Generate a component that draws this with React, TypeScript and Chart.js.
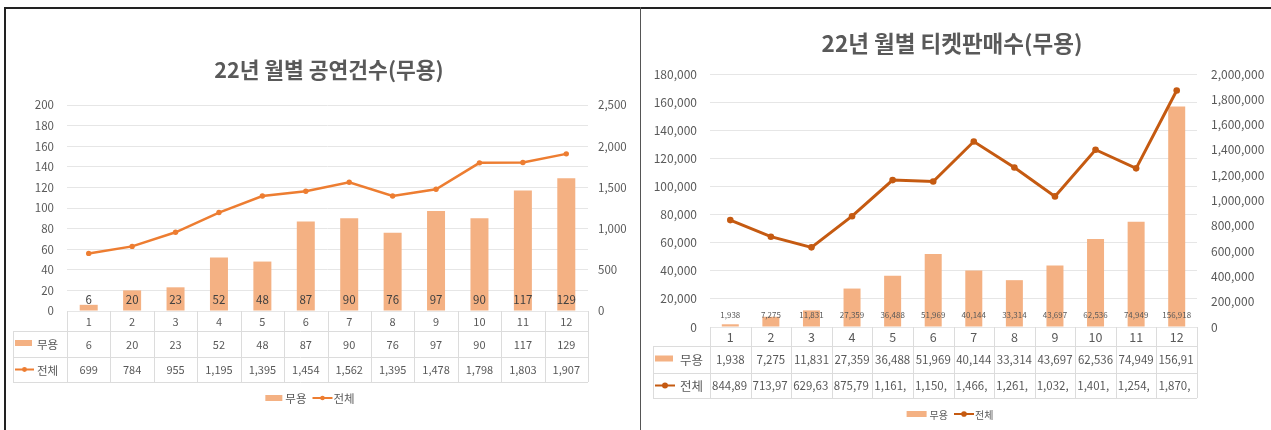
import React, { useEffect, useRef } from 'react';
import { Chart, registerables } from 'chart.js';

Chart.register(...registerables);

// ---------- data ----------
const months = ['1', '2', '3', '4', '5', '6', '7', '8', '9', '10', '11', '12'];
const seriesNames = ['무용', '전체'];

const perfTitle = '22년 월별 공연건수(무용)';
const perfDance = [6, 20, 23, 52, 48, 87, 90, 76, 97, 90, 117, 129];
const perfTotal = [699, 784, 955, 1195, 1395, 1454, 1562, 1395, 1478, 1798, 1803, 1907];
const perfLeftTicks = { min: 0, max: 200, step: 20 };
const perfRightTicks = { min: 0, max: 2500, step: 500 };

const ticketTitle = '22년 월별 티켓판매수(무용)';
const ticketDance = [1938, 7275, 11831, 27359, 36488, 51969, 40144, 33314, 43697, 62536, 74949, 156918];
const ticketTotal = [844890, 713970, 629630, 875790, 1161200, 1150300, 1466100, 1261400, 1032500, 1401200, 1254300, 1870100];
const ticketLeftTicks = { min: 0, max: 180000, step: 20000 };
const ticketRightTicks = { min: 0, max: 2000000, step: 200000 };

// ---------- styles ----------
const FONT = '"Noto Sans CJK KR", sans-serif';
const BAR_COLOR = '#F4B183';
const TEXT = '#595959';
const GRID = '#E6E6E6';
const TABLE_LINE = '#DCDCDC';

const fmt = (v: number) => Number(v).toLocaleString('en-US');

type Spec = {
  ox: number; oy: number; w: number; h: number;
  area: { L: number; R: number; T: number; B: number };
  axisSize: number; leftW: number; rightW: number; leftPad: number; rightPad: number;
  title: string; titleX: number; titleY: number; titleSize: number;
  labelY: number; labelSize: number; labelColor: string;
  tableLeft: number; rows: number[]; tableSize: number; monthSize: number; keySize: number;
  keyX: number; keyW: number; keyTextX: number;
  legendX: number; legendY: number; legendSize: number; legendRectW: number; legendLineW: number;
  lineColor: string; lineWidth: number; pointRadius: number; barPx: number;
  dance: number[]; total: number[];
  leftTicks: { min: number; max: number; step: number };
  rightTicks: { min: number; max: number; step: number };
};

function drawLineKey(ctx: CanvasRenderingContext2D, x: number, y: number, w: number, color: string, r: number) {
  ctx.save();
  ctx.strokeStyle = color;
  ctx.lineWidth = 2;
  ctx.beginPath();
  ctx.moveTo(x, y);
  ctx.lineTo(x + w, y);
  ctx.stroke();
  ctx.fillStyle = color;
  ctx.beginPath();
  ctx.arc(x + w / 2, y, r, 0, Math.PI * 2);
  ctx.fill();
  ctx.restore();
}

// Excel-like truncation: drop trailing characters until it fits
function fitText(ctx: CanvasRenderingContext2D, t: string, avail: number) {
  if (ctx.measureText(t).width <= avail) return { text: t, cut: false };
  let s = t;
  while (s.length > 1 && ctx.measureText(s).width > avail) s = s.slice(0, -1);
  return { text: s, cut: true };
}

function makeChart(canvas: HTMLCanvasElement, s: Spec) {
  const ox = s.ox;
  const oy = s.oy;
  const plugin = {
    id: 'excelExtras',
    afterDraw(chart: any) {
      const ctx: CanvasRenderingContext2D = chart.ctx;
      const area = chart.chartArea;
      const xs = chart.scales.x;
      const n = months.length;
      const cw = (area.right - area.left) / n;

      // title
      ctx.save();
      ctx.fillStyle = TEXT;
      ctx.font = `bold ${s.titleSize}px ${FONT}`;
      ctx.textAlign = 'center';
      ctx.textBaseline = 'middle';
      ctx.fillText(s.title, s.titleX - ox, s.titleY - oy);
      ctx.restore();

      // bar data labels (inside base)
      ctx.save();
      ctx.fillStyle = s.labelColor;
      ctx.font = `${s.labelSize}px ${FONT}`;
      ctx.textAlign = 'center';
      ctx.textBaseline = 'middle';
      s.dance.forEach((v, i) => {
        ctx.fillText(fmt(v), xs.getPixelForValue(i), s.labelY - oy);
      });
      ctx.restore();

      // data table grid
      const rows = [area.bottom, s.rows[0] - oy, s.rows[1] - oy, s.rows[2] - oy];
      const tl = s.tableLeft - ox;
      ctx.save();
      ctx.strokeStyle = TABLE_LINE;
      ctx.lineWidth = 1;
      ctx.beginPath();
      for (let r = 1; r < rows.length; r++) {
        ctx.moveTo(tl, Math.round(rows[r]) + 0.5);
        ctx.lineTo(area.right, Math.round(rows[r]) + 0.5);
      }
      for (let i = 0; i <= n; i++) {
        const xi = Math.round(area.left + i * cw) + 0.5;
        ctx.moveTo(xi, rows[0]);
        ctx.lineTo(xi, rows[3]);
      }
      ctx.moveTo(tl + 0.5, rows[1]);
      ctx.lineTo(tl + 0.5, rows[3]);
      ctx.stroke();
      ctx.restore();

      // data table text
      const rowTexts = [months, s.dance.map(fmt), s.total.map(fmt)];
      ctx.save();
      ctx.fillStyle = TEXT;
      ctx.textBaseline = 'middle';
      for (let r = 0; r < 3; r++) {
        ctx.font = `${r === 0 ? s.monthSize : s.tableSize}px ${FONT}`;
        const yc = (rows[r] + rows[r + 1]) / 2 + 0.5;
        for (let i = 0; i < n; i++) {
          const cl = area.left + i * cw;
          const f = fitText(ctx, rowTexts[r][i], cw - 3);
          if (f.cut) {
            ctx.textAlign = 'left';
            ctx.fillText(f.text, cl + 2, yc);
          } else {
            ctx.textAlign = 'center';
            ctx.fillText(f.text, cl + cw / 2, yc);
          }
        }
      }
      ctx.restore();

      // table keys
      ctx.save();
      const y2 = (rows[1] + rows[2]) / 2;
      const y3 = (rows[2] + rows[3]) / 2;
      ctx.fillStyle = BAR_COLOR;
      ctx.fillRect(s.keyX - ox, y2 - 4, s.keyW, 6);
      drawLineKey(ctx, s.keyX - ox, y3, s.keyW + 2, s.lineColor, s.pointRadius * 0.9);
      ctx.fillStyle = TEXT;
      ctx.font = `${s.keySize}px ${FONT}`;
      ctx.textAlign = 'left';
      ctx.textBaseline = 'middle';
      ctx.fillText(seriesNames[0], s.keyTextX - ox, y2 + 1);
      ctx.fillText(seriesNames[1], s.keyTextX - ox, y3 + 1);
      ctx.restore();

      // bottom legend
      ctx.save();
      ctx.font = `${s.legendSize}px ${FONT}`;
      ctx.textBaseline = 'middle';
      ctx.textAlign = 'left';
      const t0 = ctx.measureText(seriesNames[0]).width;
      const t1 = ctx.measureText(seriesNames[1]).width;
      const total = s.legendRectW + 3 + t0 + 6 + s.legendLineW + 1 + t1;
      let lx = s.legendX - ox - total / 2;
      const ly = s.legendY - oy;
      ctx.fillStyle = BAR_COLOR;
      ctx.fillRect(lx, ly - 3, s.legendRectW, 6);
      lx += s.legendRectW + 3;
      ctx.fillStyle = TEXT;
      ctx.fillText(seriesNames[0], lx, ly + 1);
      lx += t0 + 6;
      drawLineKey(ctx, lx, ly, s.legendLineW, s.lineColor, s.pointRadius * 0.85);
      lx += s.legendLineW + 1;
      ctx.fillStyle = TEXT;
      ctx.fillText(seriesNames[1], lx, ly + 1);
      ctx.restore();
    },
  };

  const catW = (s.area.R - s.area.L) / months.length;

  return new Chart(canvas, {
    type: 'bar',
    data: {
      labels: months,
      datasets: [
        {
          type: 'line',
          label: seriesNames[1],
          data: s.total,
          yAxisID: 'y1',
          borderColor: s.lineColor,
          backgroundColor: s.lineColor,
          borderWidth: s.lineWidth,
          pointRadius: s.pointRadius,
          pointBackgroundColor: s.lineColor,
          pointBorderWidth: 0,
          tension: 0,
          order: 0,
        } as any,
        {
          type: 'bar',
          label: seriesNames[0],
          data: s.dance,
          yAxisID: 'y',
          backgroundColor: BAR_COLOR,
          categoryPercentage: 1,
          barPercentage: s.barPx / catW,
          order: 1,
        } as any,
      ],
    },
    options: {
      responsive: false,
      animation: false,
      layout: {
        padding: {
          left: s.area.L - ox - s.leftW,
          right: ox + s.w - s.area.R - s.rightW,
          top: s.area.T - oy,
          bottom: oy + s.h - s.area.B,
        },
      },
      plugins: {
        legend: { display: false },
        title: { display: false },
        tooltip: { enabled: false },
      },
      scales: {
        x: { display: false, offset: true },
        y: {
          position: 'left',
          min: s.leftTicks.min,
          max: s.leftTicks.max,
          ticks: {
            stepSize: s.leftTicks.step,
            color: TEXT,
            padding: s.leftPad,
            font: { family: FONT, size: s.axisSize },
            callback: (v: any) => fmt(v),
          },
          grid: { color: GRID, drawTicks: false, lineWidth: 1 },
          border: { display: false },
          afterFit: (sc: any) => { sc.width = s.leftW; },
        },
        y1: {
          position: 'right',
          min: s.rightTicks.min,
          max: s.rightTicks.max,
          ticks: {
            stepSize: s.rightTicks.step,
            color: TEXT,
            padding: s.rightPad,
            font: { family: FONT, size: s.axisSize },
            callback: (v: any) => fmt(v),
          },
          grid: { drawOnChartArea: false, drawTicks: false },
          border: { display: false },
          afterFit: (sc: any) => { sc.width = s.rightW; },
        },
      },
    } as any,
    plugins: [plugin],
  });
}

const leftSpec: Spec = {
  ox: 6, oy: 9, w: 634, h: 421,
  area: { L: 67, R: 588, T: 105, B: 311 },
  axisSize: 11.5, leftW: 50, rightW: 46, leftPad: 13, rightPad: 10,
  title: perfTitle, titleX: 329, titleY: 70, titleSize: 21.5,
  labelY: 300, labelSize: 11.5, labelColor: '#404040',
  tableLeft: 13, rows: [331, 357, 382], tableSize: 11, monthSize: 11, keySize: 11.5,
  keyX: 15, keyW: 17, keyTextX: 37,
  legendX: 310, legendY: 398, legendSize: 11.5, legendRectW: 17, legendLineW: 20,
  lineColor: '#ED7D31', lineWidth: 2.5, pointRadius: 2.7, barPx: 18,
  dance: perfDance, total: perfTotal,
  leftTicks: perfLeftTicks, rightTicks: perfRightTicks,
};

const rightSpec: Spec = {
  ox: 641, oy: 9, w: 630, h: 421,
  area: { L: 710, R: 1197, T: 74, B: 327 },
  axisSize: 12, leftW: 62, rightW: 74, leftPad: 13, rightPad: 14,
  title: ticketTitle, titleX: 952, titleY: 43, titleSize: 22.5,
  labelY: 315, labelSize: 8, labelColor: '#595959',
  tableLeft: 653, rows: [346, 373, 398], tableSize: 11.5, monthSize: 12.5, keySize: 12.5,
  keyX: 655, keyW: 18, keyTextX: 680,
  legendX: 950, legendY: 414, legendSize: 10, legendRectW: 20, legendLineW: 20,
  lineColor: '#C55A11', lineWidth: 3, pointRadius: 3.3, barPx: 17,
  dance: ticketDance, total: ticketTotal,
  leftTicks: ticketLeftTicks, rightTicks: ticketRightTicks,
};

export default function App() {
  const leftRef = useRef<HTMLCanvasElement>(null);
  const rightRef = useRef<HTMLCanvasElement>(null);

  useEffect(() => {
    const charts: Chart[] = [];
    if (leftRef.current) charts.push(makeChart(leftRef.current, leftSpec));
    if (rightRef.current) charts.push(makeChart(rightRef.current, rightSpec));
    return () => charts.forEach((c) => c.destroy());
  }, []);

  return (
    <div style={{ position: 'fixed', left: 0, top: 0, width: 1271, height: 430, background: '#fff', overflow: 'hidden' }}>
      <div style={{ position: 'absolute', left: 4, top: 7, width: 1267, height: 2, background: '#222' }} />
      <div style={{ position: 'absolute', left: 4, top: 7, width: 2, height: 423, background: '#222' }} />
      <div style={{ position: 'absolute', left: 640, top: 7, width: 1, height: 423, background: '#555' }} />
      <canvas
        ref={leftRef}
        width={leftSpec.w}
        height={leftSpec.h}
        style={{ position: 'absolute', left: leftSpec.ox, top: leftSpec.oy }}
      />
      <canvas
        ref={rightRef}
        width={rightSpec.w}
        height={rightSpec.h}
        style={{ position: 'absolute', left: rightSpec.ox, top: rightSpec.oy }}
      />
    </div>
  );
}
